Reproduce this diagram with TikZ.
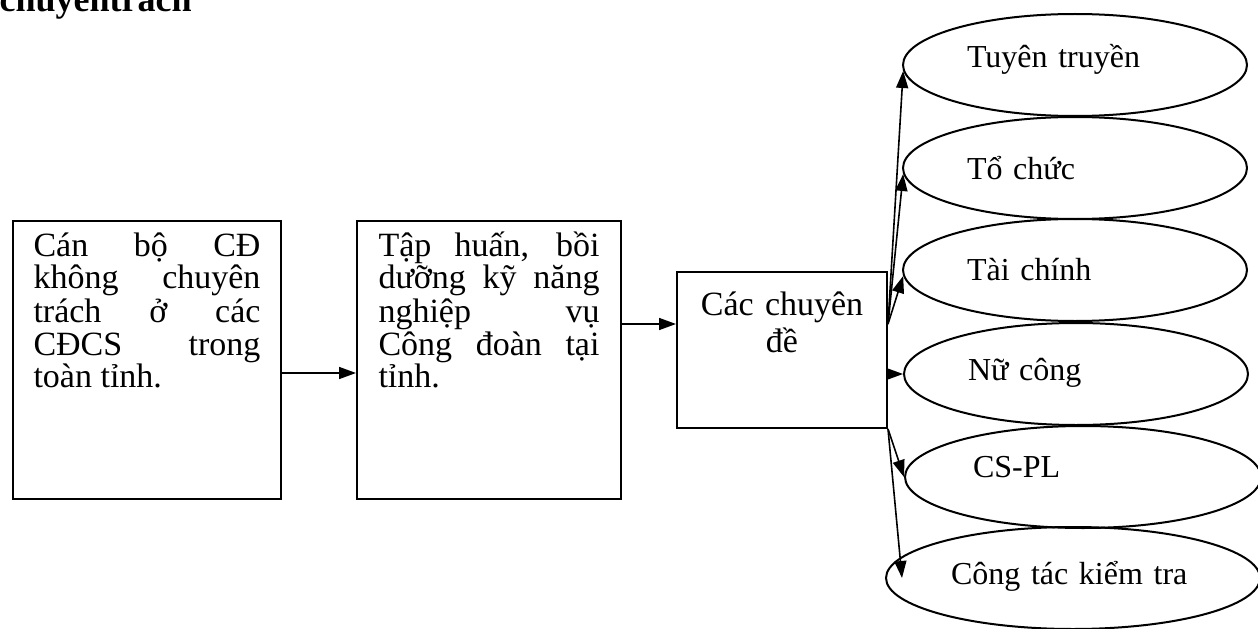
\documentclass[tikz,border=0pt]{standalone}
\usepackage{fontspec}
\setmainfont{Liberation Serif}
\usetikzlibrary{shapes.geometric,arrows.meta}
\lineskiplimit=-20pt
\hbadness=10000
\tikzset{
  hop/.style={draw, line width=1pt, anchor=north west, inner ysep=2.5pt,
    text height=15pt, text depth=119pt, align=justify,
    font=\fontsize{17}{16.5}\selectfont},
  chude/.style={ellipse, draw, line width=1pt, minimum width=172pt,
    minimum height=51pt, inner sep=0pt, text width=108pt, align=left,
    font=\fontsize{16}{18}\selectfont},
  muiten/.style={-{Triangle[length=8.5pt,width=6pt]}, line width=0.8pt}
}
\begin{document}
\begin{tikzpicture}[x=0.5pt,y=0.5pt]
\useasboundingbox (0,0) rectangle (1258,628);
\node[font=\bfseries\fontsize{18}{20}\selectfont, anchor=base east, inner sep=0pt] (tieude) at (192,616) {chuyentrach};
% cac khoi
\node[hop, text width=113.5pt, inner xsep=10.25pt] (canbo) at (12,408) {Cán bộ CĐ\linebreak không chuyên\linebreak trách ở các\linebreak CĐCS trong\linebreak toàn tỉnh.};
\node[hop, text width=110.5pt, inner xsep=10.75pt] (taphuan) at (356,408) {Tập huấn, bồi\linebreak dưỡng kỹ năng\linebreak nghiệp vụ\linebreak Công đoàn tại\linebreak tỉnh.};
\node[hop, text width=95pt, inner xsep=5pt, text height=19pt, text depth=54pt, align=center, font=\fontsize{17}{18.5}\selectfont] (chuyende) at (676,357) {Các chuyên\\đề};
% cac chuyen de
\node[chude, text depth=9.5pt] (tuyentruyen) at (1075,563) {Tuyên truyền};
\node[chude] (tochuc) at (1075,460) {Tổ chức};
\node[chude] (taichinh) at (1075,358) {Tài chính};
\node[chude, text depth=5pt] (nucong) at (1076,254) {Nữ công};
\node[chude, minimum width=178pt, text width=110pt, text depth=10pt] (cspl) at (1083,151) {CS-PL};
\node[chude, minimum width=187pt, text width=122pt, text depth=5pt] (kiemtra) at (1073,50) {Công tác kiểm tra};
% mui ten
\coordinate (vao) at ([yshift=13pt]chuyende.west);
\coordinate (ra) at ([yshift=13pt]chuyende.east);
\draw[muiten] ([yshift=-6.5pt]canbo.east) -- ([yshift=-6.5pt]taphuan.west);
\draw[muiten] (taphuan.east |- vao) -- (vao);
\foreach \dich in {tuyentruyen,tochuc,taichinh} {
  \draw[muiten] (ra) -- (\dich.182);
}
\draw[muiten] (chuyende.east |- nucong.west) -- (nucong.west);
\draw[muiten] (chuyende.south east) -- (cspl.west);
\draw[muiten] (chuyende.south east) -- ([xshift=8.5pt]kiemtra.west);
\end{tikzpicture}
\end{document}
